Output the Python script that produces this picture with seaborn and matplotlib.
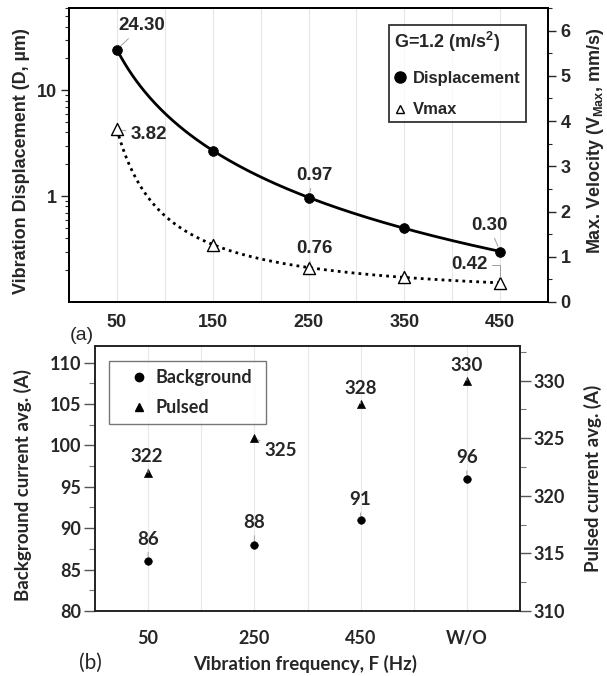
import numpy as np
import pandas as pd
import matplotlib
matplotlib.use("Agg")
import matplotlib.pyplot as plt
from matplotlib.lines import Line2D
from matplotlib.ticker import MultipleLocator, FixedLocator, LogLocator, NullFormatter, FixedFormatter
import seaborn as sns

# panel (a): displacement / max velocity vs frequency
freq = [50, 150, 250, 350, 450]
displacement = [24.30, 2.70, 0.97, 0.50, 0.30]
vmax = [3.82, 1.27, 0.76, 0.55, 0.42]

# panel (b): average currents
freq_labels = ["50", "250", "450", "W/O"]
background = [86, 88, 91, 96]
pulsed = [322, 325, 328, 330]

sns.set_theme(style="white")
plt.rcParams["font.family"] = ["Liberation Sans", "DejaVu Sans"]
plt.rcParams["mathtext.fontset"] = "custom"
plt.rcParams["mathtext.bf"] = "Liberation Sans:bold"
plt.rcParams["mathtext.rm"] = "Liberation Sans:bold"
plt.rcParams["mathtext.default"] = "bf"


def power_trend(x, y, n=200):
    # power-law trendline (y = a * x^b) fitted to the points
    b, loga = np.polyfit(np.log(x), np.log(y), 1)
    xs = np.linspace(min(x), max(x), n)
    return xs, np.exp(loga) * xs ** b


fig = plt.figure(figsize=(6.07, 6.76), dpi=100)
W, H = 607, 676

# ---------------- panel (a) ----------------
ax1 = fig.add_axes([69 / W, 1 - 302 / H, 479 / W, 294 / H])
ax1.set_yscale("log")
ax1.set_xlim(0, 500)
ax1.set_ylim(0.1, 60)
xs, ys = power_trend(freq, displacement)
sns.lineplot(x=xs, y=ys, ax=ax1, color="black", lw=2, zorder=3)
sns.scatterplot(x=freq, y=displacement, ax=ax1, color="black", marker="o", s=50,
                edgecolor="black", linewidth=0.5, zorder=5, legend=False)

ax1r = ax1.twinx()
ax1r.set_ylim(0, 6.5)
xs, ys = power_trend(freq, vmax)
sns.lineplot(x=xs, y=ys, ax=ax1r, color="black", lw=2, zorder=3)
ax1r.lines[-1].set_linestyle((0, (1, 1.5)))
sns.scatterplot(x=freq, y=vmax, ax=ax1r, marker="^", s=75, facecolor="white",
                edgecolor="black", linewidth=1, zorder=5, legend=False)

ax1.xaxis.set_major_locator(FixedLocator(freq))
ax1.xaxis.set_minor_locator(FixedLocator([100, 200, 300, 400]))
ax1.grid(True, axis="x", which="both", color="#e6e6e6", lw=0.8)
ax1.yaxis.set_major_locator(FixedLocator([1, 10]))
ax1.yaxis.set_major_formatter(FixedFormatter(["1", "10"]))
ax1.yaxis.set_minor_locator(LogLocator(base=10, subs=np.arange(2, 10)))
ax1.yaxis.set_minor_formatter(NullFormatter())
ax1.tick_params(axis="x", which="major", length=0, pad=9, labelsize=13)
ax1.tick_params(axis="x", which="minor", length=5, direction="in", width=0.8, color="#555555")
ax1.tick_params(axis="y", which="major", length=6, width=1, direction="out", labelsize=13, pad=3, left=True)
ax1.tick_params(axis="y", which="minor", length=3, width=0.8, direction="out", left=True)
for lab in ax1.get_xticklabels() + ax1.get_yticklabels():
    lab.set_fontweight("bold")

ax1r.yaxis.set_major_locator(MultipleLocator(1))
ax1r.yaxis.set_minor_locator(MultipleLocator(0.5))
ax1r.tick_params(axis="y", which="major", length=6, width=1, direction="out", labelsize=13, pad=3, right=True)
ax1r.tick_params(axis="y", which="minor", length=3, width=0.8, direction="out", right=True)
for lab in ax1r.get_yticklabels():
    lab.set_fontweight("bold")

for a in (ax1, ax1r):
    for sp in a.spines.values():
        sp.set_color("black")
        sp.set_linewidth(1.3)

ax1.set_ylabel("Vibration Displacement (D, µm)", fontsize=13, fontweight="bold")
ax1.yaxis.set_label_coords(-0.082, 0.48)
ax1r.set_ylabel("Max. Velocity (V$_{Max}$, mm/s)", fontsize=13, fontweight="bold")
ax1r.yaxis.set_label_coords(1.077, 0.548)

lead = dict(arrowstyle="-", color="#a0a0a0", lw=0.7, shrinkA=1, shrinkB=4)
ann_a = [
    (ax1, 0, displacement, "24.30", (18, 17), "arc3"),
    (ax1, 2, displacement, "0.97", (4, 16), "arc3"),
    (ax1, 4, displacement, "0.30", (-8, 19), "arc3"),
    (ax1r, 0, vmax, "3.82", (23, -4), "arc3"),
    (ax1r, 2, vmax, "0.76", (4, 14), "arc3"),
    (ax1r, 4, vmax, "0.42", (-22, 13), "angle,angleA=0,angleB=90,rad=0"),
]
for a, i, vals, txt, off, cs in ann_a:
    a.annotate(txt, xy=(freq[i], vals[i]), xytext=off, textcoords="offset points",
               ha="center", va="center", fontsize=13.5, fontweight="bold",
               arrowprops=dict(lead, connectionstyle=cs), zorder=6)

h_a = [Line2D([], [], ls="none", marker="o", color="black", markersize=8),
       Line2D([], [], ls="none", marker="^", markerfacecolor="white",
              markeredgecolor="black", markersize=6)]
leg_a = ax1r.legend(h_a, ["Displacement", "Vmax"], title="G=1.2 (m/s$^2$)",
                    loc="upper left", bbox_to_anchor=(0.668, 0.609, 0.286, 0.333),
                    mode="expand", borderaxespad=0, frameon=True,
                    fancybox=False, edgecolor="black", handlelength=0.7,
                    handletextpad=0.45, labelspacing=1.0, borderpad=0.3,
                    prop={"weight": "bold", "size": 12})
leg_a.get_frame().set_linewidth(1.3)
leg_a.get_title().set_fontweight("bold")
leg_a.get_title().set_fontsize(13)
leg_a._legend_box.align = "left"

fig.text(82 / W, 1 - 336 / H, "(a)", fontsize=14, ha="center", va="center")

# ---------------- panel (b) ----------------
df_b = pd.DataFrame({"freq": freq_labels, "background": background, "pulsed": pulsed})
pos = np.arange(len(freq_labels))

ax2 = fig.add_axes([95 / W, 1 - 611 / H, 425 / W, 265 / H])
ax2.set_xlim(-0.5, 3.5)
ax2.set_ylim(80, 112)
sns.scatterplot(x=pos, y=df_b["background"], ax=ax2, color="black", marker="o",
                s=30, edgecolor="black", zorder=5, legend=False)
ax2r = ax2.twinx()
ax2r.set_ylim(310, 333)
sns.scatterplot(x=pos, y=df_b["pulsed"], ax=ax2r, color="black", marker="^",
                s=34, edgecolor="black", zorder=5, legend=False)

ax2.xaxis.set_major_locator(FixedLocator(pos))
ax2.set_xticklabels(freq_labels)
ax2.xaxis.set_minor_locator(FixedLocator(pos[:-1] + 0.5))
ax2.grid(True, axis="x", which="both", color="#e8e8e8", lw=0.8)
ax2.yaxis.set_major_locator(MultipleLocator(5))
ax2.yaxis.set_minor_locator(MultipleLocator(2.5))
ax2r.yaxis.set_major_locator(MultipleLocator(5))
ax2r.yaxis.set_minor_locator(MultipleLocator(2.5))
ax2.tick_params(axis="x", which="major", length=5, direction="inout", width=1, pad=11, labelsize=13)
ax2.tick_params(axis="x", which="minor", length=5, direction="in", width=1)
ax2.tick_params(axis="y", which="major", length=8, width=1, direction="out", labelsize=13, pad=2, left=True, color="#555555")
ax2.tick_params(axis="y", which="minor", length=4, width=0.8, direction="out", left=True, color="#777777")
ax2r.tick_params(axis="y", which="major", length=8, width=1, direction="out", labelsize=13, pad=2, right=True, color="#555555")
ax2r.tick_params(axis="y", which="minor", length=4, width=0.8, direction="out", right=True, color="#777777")
for a in (ax2, ax2r):
    for lab in a.get_xticklabels() + a.get_yticklabels():
        lab.set_fontfamily("Lato")
        lab.set_fontweight("bold")
    for sp in a.spines.values():
        sp.set_color("#222222")
        sp.set_linewidth(1.2)

ax2.set_ylabel("Background current avg. (A)", fontsize=13.5, fontweight="bold", fontfamily="Lato")
ax2.yaxis.set_label_coords(-0.148, 0.475)
ax2r.set_ylabel("Pulsed current avg. (A)", fontsize=13.5, fontweight="bold", fontfamily="Lato")
ax2r.yaxis.set_label_coords(1.15, 0.5)
ax2.set_xlabel("Vibration frequency, F (Hz)", fontsize=13.5, fontweight="bold", fontfamily="Lato")
ax2.xaxis.label.set_va("center")
ax2.xaxis.set_label_coords(0.495, -0.2)

lead_b = dict(arrowstyle="-", color="#a0a0a0", lw=0.7, shrinkA=1, shrinkB=3)
bg_off = [(0, 16), (0, 16), (0, 14.5), (0, 15)]
pu_off = [(-1, 12), (19, -9), (0, 11), (0, 11)]
for i in range(len(freq_labels)):
    ax2.annotate(str(background[i]), xy=(pos[i], background[i]), xytext=bg_off[i],
                 textcoords="offset points", ha="center", va="center", fontsize=13.5,
                 fontweight="bold", fontfamily="Lato", arrowprops=lead_b, zorder=6)
    ax2r.annotate(str(pulsed[i]), xy=(pos[i], pulsed[i]), xytext=pu_off[i],
                  textcoords="offset points", ha="center", va="center", fontsize=13.5,
                  fontweight="bold", fontfamily="Lato", arrowprops=lead_b, zorder=6)

h_b = [Line2D([], [], ls="none", marker="o", color="black", markersize=6),
       Line2D([], [], ls="none", marker="^", color="black", markersize=6)]
leg_b = ax2r.legend(h_b, ["Background", "Pulsed"], loc="upper left",
                    bbox_to_anchor=(0.033, 0.5, 0.369, 0.443), mode="expand",
                    frameon=True, fancybox=False, edgecolor="#555555",
                    handlelength=2.4, handletextpad=-0.3, labelspacing=0.7,
                    borderpad=0.45, borderaxespad=0,
                    prop={"family": "Lato", "weight": "bold", "size": 13})
leg_b.get_frame().set_linewidth(1.0)

fig.text(90 / W, 1 - 663 / H, "(b)", fontsize=15, ha="center", va="center", fontfamily="Lato")

fig.savefig("out.png", dpi=100)
